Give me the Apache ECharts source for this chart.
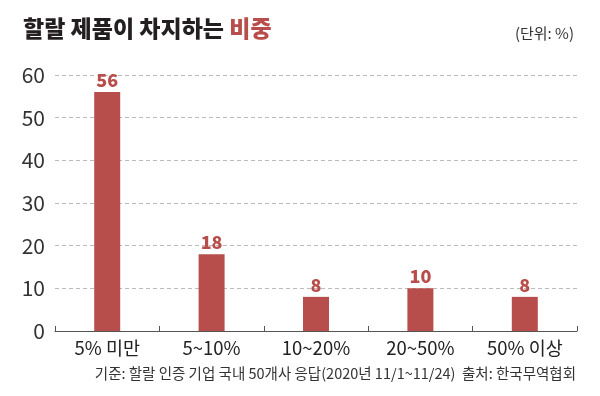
<!DOCTYPE html>
<html>
<head>
<meta charset="utf-8">
<script src="https://cdn.jsdelivr.net/npm/echarts@6/dist/echarts.min.js"></script>
<style>
	html,body{margin:0;padding:0;background:#fff;}
	#chart{width:600px;height:396px;}
</style>
</head>
<body>
<div id="chart"></div>
<script>
	// 항목(매출 중 할랄 제품 비중 구간)
	var categories = ['5% 미만', '5~10%', '10~20%', '20~50%', '50% 이상'];
	// 응답 기업 비중(%)
	var values = [56, 18, 8, 10, 8];
	var yTicks = [0, 10, 20, 30, 40, 50, 60];

	var font = '"Noto Sans CJK KR", "Noto Sans", sans-serif';
	var red = '#b84e4b';

	var chart = echarts.init(document.getElementById('chart'));
	chart.setOption({
		backgroundColor: '#fff',
		textStyle: { fontFamily: font },
		title: [{
			text: '{a|할랄 제품이 차지하는 }{b|비중}',
			left: 18,
			top: 12,
			textStyle: {
				rich: {
					a: { fontFamily: font, fontSize: 23, fontWeight: 900, color: '#231f20' },
					b: { fontFamily: font, fontSize: 23, fontWeight: 900, color: red }
				}
			}
		}, {
			text: '(단위: %)',
			right: 21,
			top: 21,
			textStyle: { fontFamily: font, fontSize: 15, fontWeight: 'normal', color: '#333' }
		}, {
			text: '기준: 할랄 인증 기업 국내 50개사 응답(2020년 11/1~11/24)  출처: 한국무역협회',
			right: 19,
			top: 361,
			textStyle: { fontFamily: font, fontSize: 14.5, fontWeight: 'normal', color: '#333' }
		}],
		grid: {
			left: 55,
			right: 23,
			top: 75,
			bottom: 65
		},
		xAxis: {
			type: 'category',
			data: categories,
			axisLine: { lineStyle: { color: '#555', width: 1 } },
			axisTick: { show: true, inside: true, length: 5, lineStyle: { color: '#555' } },
			axisLabel: { color: '#222', fontSize: 18.5, margin: 8, fontFamily: font }
		},
		yAxis: {
			type: 'value',
			min: yTicks[0],
			max: yTicks[yTicks.length - 1],
			interval: 10,
			axisLine: { show: false },
			axisTick: { show: false },
			axisLabel: { color: '#333', fontSize: 21, margin: 10, fontFamily: font },
			splitLine: { lineStyle: { color: '#bbb', type: [4, 3], width: 1 } }
		},
		series: [{
			type: 'bar',
			data: values,
			barWidth: 26,
			itemStyle: { color: red },
			label: {
				show: true,
				position: 'top',
				distance: 3,
				color: red,
				fontSize: 18,
				fontWeight: 900,
				fontFamily: font
			}
		}]
	});
</script>
</body>
</html>
